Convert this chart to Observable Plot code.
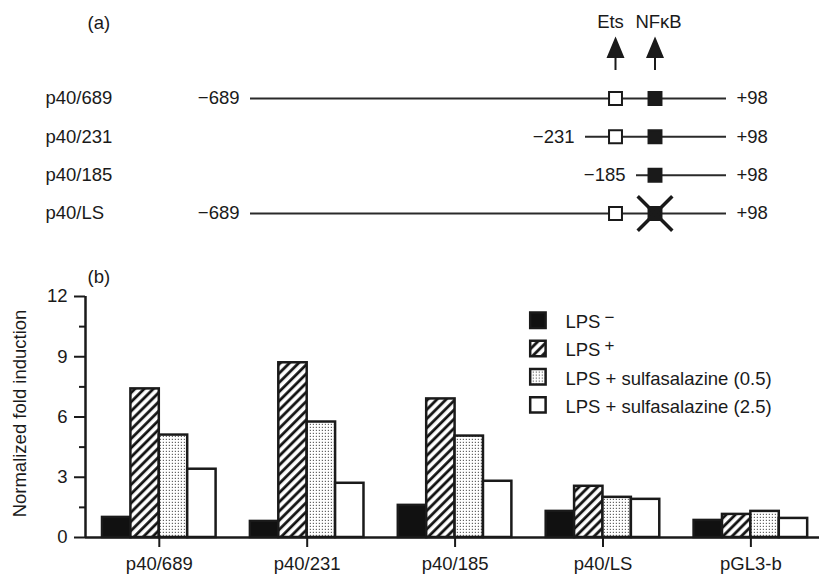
<!DOCTYPE html>
<html><head><meta charset="utf-8">
<script src="https://cdn.jsdelivr.net/npm/d3@7"></script>
<script src="https://cdn.jsdelivr.net/npm/@observablehq/plot@0.6"></script>
<style>
html,body{margin:0;padding:0;background:#fff;}
#chart svg{display:block;}
</style></head><body><div id="chart"></div>
<script>
// ---------- (a) promoter constructs ----------
const constructs = ["p40/689", "p40/231", "p40/185", "p40/LS"];
const constructStart = [-689, -231, -185, -689];
const constructEnd = [98, 98, 98, 98];
const startLabels = ["\u2212689", "\u2212231", "\u2212185", "\u2212689"];
const endLabels = ["+98", "+98", "+98", "+98"];
const hasEts = [true, true, false, true];
const nfkbMutated = [false, false, false, true];
const siteNames = ["Ets", "NF\u03BAB"];
const sitePos = [-210, -117]; // approximate bp position of the sites (schematic)

// ---------- (b) fold induction ----------
const categories = ["p40/689", "p40/231", "p40/185", "p40/LS", "pGL3-b"];
const seriesNames = ["LPS", "LPS", "LPS + sulfasalazine (0.5)", "LPS + sulfasalazine (2.5)"];
const seriesSup = ["\u2212", "+", "", ""];
const lpsMinus = [1.0, 0.8, 1.6, 1.3, 0.85];
const lpsPlus = [7.4, 8.7, 6.9, 2.55, 1.15];
const sulfa05 = [5.1, 5.75, 5.05, 2.0, 1.3];
const sulfa25 = [3.4, 2.7, 2.8, 1.9, 0.95];
const yMajorTicks = [0, 3, 6, 9, 12];
const yMinorTicks = [1.5, 4.5, 7.5, 10.5];
const yLabel = "Normalized fold induction";

// ---------- layout / style ----------
const font = "'Liberation Sans', Arial, Helvetica, sans-serif";
const ink = "#1a1a1a";
const fs = 18.5;
const baseStyle = {fontFamily: font, fontSize: fs + "px", color: ink, background: "white"};

// schematic (not to scale) map from bp to drawing position
const schematicDomain = [-689, -231, -210, -185, -117, 98];
const schematicRange = [250, 585, 615, 636, 654.5, 726];

const rows = constructs.map((name, i) => ({
  name, i, start: constructStart[i], end: constructEnd[i],
  startLabel: startLabels[i], endLabel: endLabels[i],
  ets: hasEts[i], mutated: nfkbMutated[i]
}));
const sites = siteNames.map((name, i) => ({name, pos: sitePos[i]}));

const arrowSymbol = {
  draw(ctx) {
    const w = 7.5, h = 18;
    ctx.moveTo(0, -h); ctx.lineTo(w, 0); ctx.lineTo(-w, 0); ctx.closePath();
    ctx.moveTo(0, 0); ctx.lineTo(0, 13);
  }
};
const crossSymbol = {
  draw(ctx) {
    const r = 17.3;
    ctx.moveTo(-r, -r); ctx.lineTo(r, r);
    ctx.moveTo(r, -r); ctx.lineTo(-r, r);
  }
};

const topPlot = Plot.plot({
  width: 819, height: 255, margin: 0,
  style: baseStyle,
  x: {type: "linear", domain: schematicDomain, range: schematicRange, axis: null},
  y: {domain: [0, 3], range: [98, 213], axis: null},
  marks: [
    Plot.text(["(a)"], {frameAnchor: "top-left", dx: 87, dy: 23, textAnchor: "start", lineAnchor: "middle", fontSize: fs}),
    Plot.text(rows, {y: "i", text: "name", frameAnchor: "left", dx: 45, textAnchor: "start", lineAnchor: "middle", fontSize: fs}),
    Plot.ruleY(rows, {y: "i", x1: "start", x2: "end", stroke: "#2a2a2a", strokeWidth: 2}),
    Plot.text(rows, {x: "start", y: "i", text: "startLabel", textAnchor: "end", dx: -11, lineAnchor: "middle", fontSize: fs}),
    Plot.text(rows, {x: "end", y: "i", text: "endLabel", textAnchor: "start", dx: 10, lineAnchor: "middle", fontSize: fs}),
    Plot.dot(rows.filter(d => d.ets), {x: () => sitePos[0], y: "i", symbol: "square", r: 7.3, fill: "white", stroke: ink, strokeWidth: 2}),
    Plot.dot(rows, {x: () => sitePos[1], y: "i", symbol: "square", r: 7.3, fill: ink, stroke: ink, strokeWidth: 2}),
    Plot.dot(rows.filter(d => d.mutated), {x: () => sitePos[1], y: "i", symbol: crossSymbol, r: 10, fill: "none", stroke: ink, strokeWidth: 3.5}),
    Plot.text([sites[0]], {x: "pos", text: "name", frameAnchor: "top", dy: 22, dx: -5, lineAnchor: "middle", fontSize: fs}),
    Plot.text([sites[1]], {x: "pos", text: "name", frameAnchor: "top", dy: 22, dx: 3.5, lineAnchor: "middle", fontSize: fs}),
    Plot.dot(sites, {x: "pos", frameAnchor: "top", dy: 56.5, symbol: arrowSymbol, r: 10, fill: ink, stroke: ink, strokeWidth: 2})
  ]
});

// ---------- bottom chart ----------
const seriesValues = [lpsMinus, lpsPlus, sulfa05, sulfa25];
const fills = ["#111", "url(#hatch)", "url(#stipple)", "white"];
const nSeries = seriesValues.length;
const bw = 0.192; // bar width in category units
const table = [];
seriesValues.forEach((vals, si) => vals.forEach((v, ci) => table.push({ci, si, v})));
const xDomain = [-0.499, 4.464];

const legendX = 2.56, legendTop = 10.82, legendStep = 1.406;
const legendRows = seriesNames.map((name, i) => ({name, sup: seriesSup[i], i}));
const ly = d => legendTop - d.i * legendStep;

const barMarks = seriesValues.map((vals, si) =>
  Plot.rect(table.filter(d => d.si === si), {
    x1: d => d.ci + (d.si - nSeries / 2) * bw,
    x2: d => d.ci + (d.si - nSeries / 2 + 1) * bw,
    y1: 0, y2: "v",
    fill: fills[si], stroke: ink, strokeWidth: 2.5
  })
);
const legendBoxes = legendRows.map(r =>
  Plot.dot([r], {x: () => legendX, y: ly, symbol: "square", r: 8.7, fill: fills[r.i], stroke: ink, strokeWidth: 2.5})
);

const bottomPlot = Plot.plot({
  width: 819, height: 319, marginLeft: 85, marginRight: 0, marginTop: 41, marginBottom: 37,
  style: baseStyle,
  x: {type: "linear", domain: xDomain},
  y: {domain: [0, 12]},
  marks: [
    ...barMarks,
    Plot.ruleY([0], {stroke: ink, strokeWidth: 2.5}),
    Plot.ruleX([xDomain[0]], {y1: 0, y2: 12, stroke: ink, strokeWidth: 2.5}),
    Plot.axisY(yMajorTicks, {tickSize: 11, tickPadding: 7, strokeWidth: 2, label: null, fontSize: fs}),
    Plot.axisY(yMinorTicks, {tickSize: 6, tickFormat: () => "", strokeWidth: 2, label: null}),
    Plot.axisX(categories.map((c, i) => i), {tickFormat: i => categories[i], tickSize: 10, tickPadding: 9, strokeWidth: 2, label: null, fontSize: fs}),
    Plot.text([yLabel], {frameAnchor: "left", rotate: -90, dx: -65, dy: -3.5, textAnchor: "middle", lineAnchor: "middle", fontSize: fs}),
    Plot.text(["(b)"], {frameAnchor: "top-left", dx: 2, dy: -19, textAnchor: "start", lineAnchor: "middle", fontSize: fs}),
    ...legendBoxes,
    Plot.text(legendRows, {x: () => legendX, y: ly, text: "name", dx: 27.5, dy: 2, textAnchor: "start", lineAnchor: "middle", fontSize: fs}),
    Plot.text(legendRows, {x: () => legendX, y: ly, text: "sup", dx: 66.5, dy: -3, textAnchor: "start", lineAnchor: "middle", fontSize: 17})
  ]
});

d3.select(bottomPlot).insert("defs", ":first-child").html(
  '<pattern id="hatch" patternUnits="userSpaceOnUse" width="6.5" height="6.5" patternTransform="rotate(45)">' +
  '<rect width="6.5" height="6.5" fill="white"/>' +
  '<line x1="1.6" y1="-1" x2="1.6" y2="7.5" stroke="#111" stroke-width="2.8"/></pattern>' +
  '<pattern id="stipple" patternUnits="userSpaceOnUse" width="3" height="3">' +
  '<rect width="3" height="3" fill="white"/>' +
  '<rect x="0.8" y="0.8" width="1.2" height="1.2" fill="#666"/></pattern>'
);

const container = document.getElementById("chart");
container.append(topPlot, bottomPlot);
</script>
</body></html>
